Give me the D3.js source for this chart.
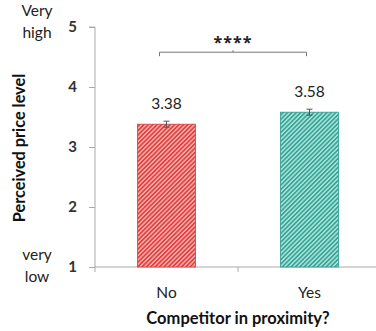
<!DOCTYPE html>
<html><head><meta charset="utf-8">
<script src="https://cdn.jsdelivr.net/npm/d3@7"></script>
<style>body{margin:0;background:#fff;} svg{display:block;}</style>
</head><body>
<svg id="c" width="376" height="331"></svg>
<script>
const categories = ["No", "Yes"];
const means = [3.38, 3.58];
const errors = [0.05, 0.05];
const yTicks = [1, 2, 3, 4, 5];
const significance = "****";
const yLabel = "Perceived price level";
const xLabel = "Competitor in proximity?";

const svg = d3.select("#c");
const font = "Lato, 'Open Sans', 'DejaVu Sans', sans-serif";
const mLeft = 95, mRight = 381, mTop = 27, mBottom = 267;

const x = d3.scaleBand().domain(categories).range([mLeft, mRight]).paddingInner(0).paddingOuter(0);
const y = d3.scaleLinear().domain([1, 5]).range([mBottom, mTop]);
const barW = 58;

const defs = svg.append("defs");
const pats = [["pr", "#f8b4b0", "#e0403f"], ["pt", "#b2e6de", "#36a597"]];
const per = 3.1;
pats.forEach(([id, bgc, fg]) => {
  const p = defs.append("pattern").attr("id", id).attr("patternUnits", "userSpaceOnUse")
    .attr("width", per).attr("height", per).attr("patternTransform", "rotate(45)");
  p.append("rect").attr("width", per).attr("height", per).attr("fill", bgc);
  p.append("rect").attr("width", per * 0.55).attr("height", per).attr("fill", fg);
});
const strokes = ["#d83a3a", "#30998c"];

// axes
const yAxis = d3.axisLeft(y).tickValues(yTicks).tickSize(6).tickFormat(d3.format("d"));
const gy = svg.append("g").attr("transform", `translate(${mLeft},0)`).call(yAxis);
gy.select(".domain").attr("stroke", "#aaa").attr("d", `M-6,${mTop}H0V${mBottom}`);
gy.selectAll(".tick line").attr("stroke", "#aaa");
gy.selectAll(".tick text").attr("font-family", font).attr("font-size", 15).attr("font-weight", "bold")
  .attr("fill", "#333").attr("x", -18);

const gx = svg.append("g").attr("transform", `translate(0,${mBottom})`);
gx.append("line").attr("x1", mLeft).attr("x2", mRight).attr("stroke", "#aaa");
[mLeft, x("Yes"), mRight].forEach(v => gx.append("line").attr("x1", v).attr("x2", v).attr("y1", 0).attr("y2", 5).attr("stroke", "#aaa"));
categories.forEach(c => gx.append("text").attr("x", x(c) + x.bandwidth() / 2).attr("y", 31)
  .attr("text-anchor", "middle").attr("font-family", font).attr("font-size", 15.5).attr("fill", "#222").text(c));

// bars
categories.forEach((c, i) => {
  const cx = x(c) + x.bandwidth() / 2;
  svg.append("rect").attr("x", cx - barW / 2).attr("y", y(means[i])).attr("width", barW)
    .attr("height", y(1) - y(means[i])).attr("fill", `url(#${pats[i][0]})`)
    .attr("stroke", strokes[i]).attr("stroke-width", 0.8);
  const e1 = y(means[i] + errors[i]), e2 = y(means[i] - errors[i]);
  const eg = svg.append("g").attr("stroke", "#555").attr("stroke-width", 1);
  eg.append("line").attr("x1", cx).attr("x2", cx).attr("y1", e1).attr("y2", e2);
  eg.append("line").attr("x1", cx - 3).attr("x2", cx + 3).attr("y1", e1).attr("y2", e1);
  eg.append("line").attr("x1", cx - 3).attr("x2", cx + 3).attr("y1", e2).attr("y2", e2);
  svg.append("text").attr("x", cx).attr("y", y(means[i]) - 15).attr("text-anchor", "middle")
    .attr("font-family", font).attr("font-size", 15.5).attr("fill", "#222").text(means[i].toFixed(2));
});

// significance bracket
const bx1 = x("No") + x.bandwidth() / 2 - 7, bx2 = x("Yes") + x.bandwidth() / 2 - 3;
const by = y(4.58);
const bg = svg.append("g").attr("stroke", "#777").attr("fill", "none").attr("stroke-width", 1);
bg.append("path").attr("d", `M${bx1},${by + 4}V${by}H${bx2}V${by + 4}`);
bg.append("line").attr("x1", (bx1 + bx2) / 2).attr("x2", (bx1 + bx2) / 2).attr("y1", by).attr("y2", by - 2);
svg.append("text").attr("x", (bx1 + bx2) / 2).attr("y", by - 4).attr("text-anchor", "middle")
  .attr("font-family", "'Open Sans', 'DejaVu Sans', sans-serif").attr("font-size", 16).attr("font-weight", "bold")
  .attr("letter-spacing", 1).attr("fill", "#222").text(significance);

// anchor labels
const an = [["Very", 16], ["high", 38], ["very", 260], ["low", 282]];
an.forEach(([t, yy]) => svg.append("text").attr("x", 37).attr("y", yy).attr("text-anchor", "middle")
  .attr("font-family", font).attr("font-size", 15.5).attr("fill", "#222").text(t));

// axis titles
svg.append("text").attr("transform", `translate(25,148) rotate(-90)`).attr("text-anchor", "middle")
  .attr("font-family", font).attr("font-size", 16.3).attr("font-weight", "bold").attr("fill", "#111").text(yLabel);
svg.append("text").attr("x", 238).attr("y", 324).attr("text-anchor", "middle")
  .attr("font-family", font).attr("font-size", 16.5).attr("font-weight", "bold").attr("fill", "#111").text(xLabel);
</script>
</body></html>
